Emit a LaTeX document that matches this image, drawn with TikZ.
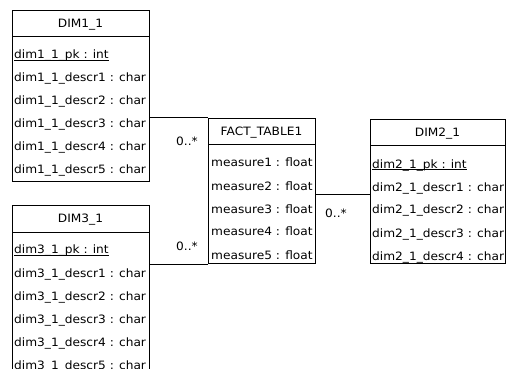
\documentclass[tikz,border=0pt]{standalone}
\usepackage{fontspec}
\newfontfamily\umlfont[FakeStretch=1.06]{DejaVu Sans}
\newcommand\pkline[1]{\setbox0\hbox{#1}\rlap{\rule[-1.6pt]{\wd0}{0.8pt}}\box0}
\begin{document}
\begin{tikzpicture}[x=1pt,y=-1pt,
  font=\umlfont\fontsize{11.5pt}{13pt}\selectfont,
  box/.style={draw=black, line width=1pt, fill=white, inner sep=0pt, anchor=north west},
  sep/.style={draw=black, line width=1pt},
  row/.style={anchor=west, inner sep=0pt, text height=8pt, text depth=0pt},
  ttl/.style={anchor=center, inner sep=0pt, text height=8pt, text depth=0pt},
  conn/.style={draw=black, line width=1pt},
  mult/.style={anchor=center, inner sep=0pt, text height=8pt, text depth=0pt}]
\clip (0,0) rectangle (507,369);
\fill[white] (0,0) rectangle (507,369);

% DIM1_1
\node[box, minimum width=137pt, minimum height=171pt] (dim1) at (12,10) {};
\draw[sep] ([yshift=-27pt]dim1.north west) -- ([yshift=-27pt]dim1.north east);
\node[ttl] (dim1t) at (80.5,23.5) {DIM1\_1};
\node[row] (dim1r0) at (14,55) {\pkline{dim1\_1\_pk : int}};
\foreach \k in {1,...,5}
  \node[row] (dim1r\k) at (14,55+23*\k) {dim1\_1\_descr\k{} : char};

% DIM3_1
\node[box, minimum width=137pt, minimum height=171pt] (dim3) at (12,205) {};
\draw[sep] ([yshift=-27pt]dim3.north west) -- ([yshift=-27pt]dim3.north east);
\node[ttl] (dim3t) at (80.5,218.5) {DIM3\_1};
\node[row] (dim3r0) at (14,250) {\pkline{dim3\_1\_pk : int}};
\foreach \k in {1,...,5}
  \node[row] (dim3r\k) at (14,250+23*\k) {dim3\_1\_descr\k{} : char};

% FACT_TABLE1
\node[box, minimum width=107pt, minimum height=145pt] (fact) at (208,118) {};
\draw[sep] ([yshift=-27pt]fact.north west) -- ([yshift=-27pt]fact.north east);
\node[ttl] (factt) at (261.5,131.5) {FACT\_TABLE1};
\foreach \k in {1,...,5}
  \node[row] (factr\k) at (211,140+23*\k) {measure\k{} : float};

% DIM2_1
\node[box, minimum width=135pt, minimum height=144pt] (dim2) at (370,119) {};
\draw[sep] ([yshift=-27pt]dim2.north west) -- ([yshift=-27pt]dim2.north east);
\node[ttl] (dim2t) at (437.5,132.5) {DIM2\_1};
\node[row] (dim2r0) at (372,164) {\pkline{dim2\_1\_pk : int}};
\foreach \k in {1,...,4}
  \node[row] (dim2r\k) at (372,164+23*\k) {dim2\_1\_descr\k{} : char};

% connectors
\draw[conn] (dim1.east |- fact.north west) -- (fact.north west);
\draw[conn] (dim3.east |- fact.south west) -- (fact.south west);
\draw[conn] ([yshift=-3.5pt]fact.east) -- ([yshift=-3.5pt]fact.east -| dim2.west);

% multiplicities
\node[mult] (m1) at (187,142) {0..*};
\node[mult] (m3) at (187,247) {0..*};
\node[mult] (m2) at (336,214) {0..*};
\end{tikzpicture}
\end{document}
